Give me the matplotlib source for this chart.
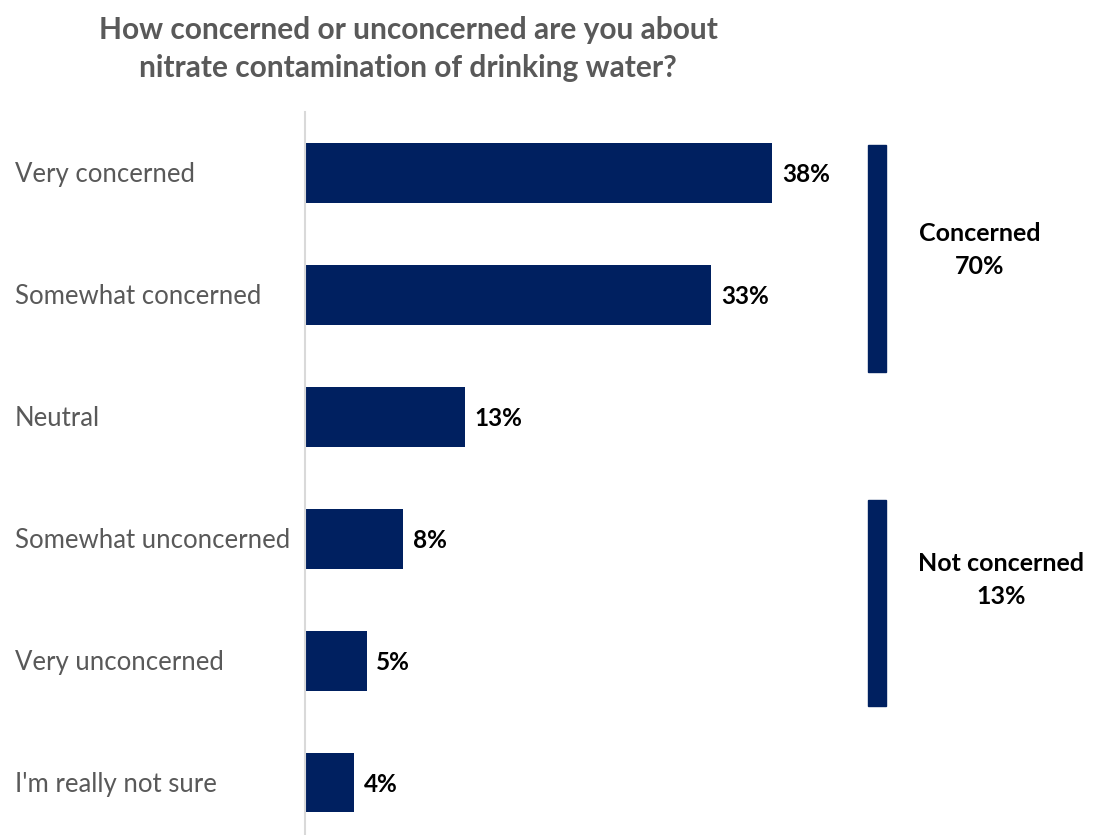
import matplotlib.pyplot as plt
from matplotlib.patches import Rectangle

plt.rcParams['font.family'] = ['Lato', 'DejaVu Sans']

categories = ['Very concerned', 'Somewhat concerned', 'Neutral',
              'Somewhat unconcerned', 'Very unconcerned', "I'm really not sure"]
values = [38, 33, 13, 8, 5, 4]

groups = ['Concerned', 'Not concerned']
group_totals = [70, 13]
group_rows = [(0, 1), (3, 4)]

navy = '#002060'
px = 12.3  # pixels per percentage point

fig = plt.figure(figsize=(11, 8.35), dpi=100)
ax = fig.add_axes([305 / 1100, 0, 795 / 1100, (835 - 112) / 835])

ypos = list(range(len(categories)))
ax.barh(ypos, values, height=0.49, color=navy)
ax.set_xlim(0, 795 / px)
ax.set_ylim(5.43, -0.5)

for y, v in zip(ypos, values):
    ax.text(v + 0.8, y + 0.015, f'{v}%', va='center', ha='left', fontsize=17.5,
            fontweight='bold', color='black')

# category labels sit left of the axis line
for y, c in zip(ypos, categories):
    ax.text(-290 / px, y + 0.015, c, va='center', ha='left', fontsize=18.5,
            color='#595959', clip_on=False)

# bracket bars and group totals on the right
pads = [(0.23, 0.63), (0.32, 0.37)]
text_pos = [(980, 0.63), (1001, 3.34)]
for name, total, (r0, r1), (pt, pb), (tx, ty) in zip(groups, group_totals,
                                                     group_rows, pads, text_pos):
    top = r0 - pt
    bottom = r1 + pb
    ax.add_patch(Rectangle((563 / px, top), 18 / px, bottom - top,
                           color=navy, clip_on=False))
    ax.text((tx - 305) / px, ty,
            f'{name}\n{total}%', ha='center', va='center', fontsize=18,
            fontweight='bold', color='black', linespacing=1.55, clip_on=False)

ax.set_xticks([])
ax.set_yticks([])
for s in ['top', 'right', 'bottom']:
    ax.spines[s].set_visible(False)
ax.spines['left'].set_color('#d9d9d9')
ax.spines['left'].set_linewidth(1.5)

fig.text(408 / 1100, 1 - 49 / 835,
         'How concerned or unconcerned are you about\nnitrate contamination of drinking water?',
         ha='center', va='center', fontsize=21.5, fontweight='bold',
         color='#595959', linespacing=1.45)

fig.savefig('out.png', dpi=100)
